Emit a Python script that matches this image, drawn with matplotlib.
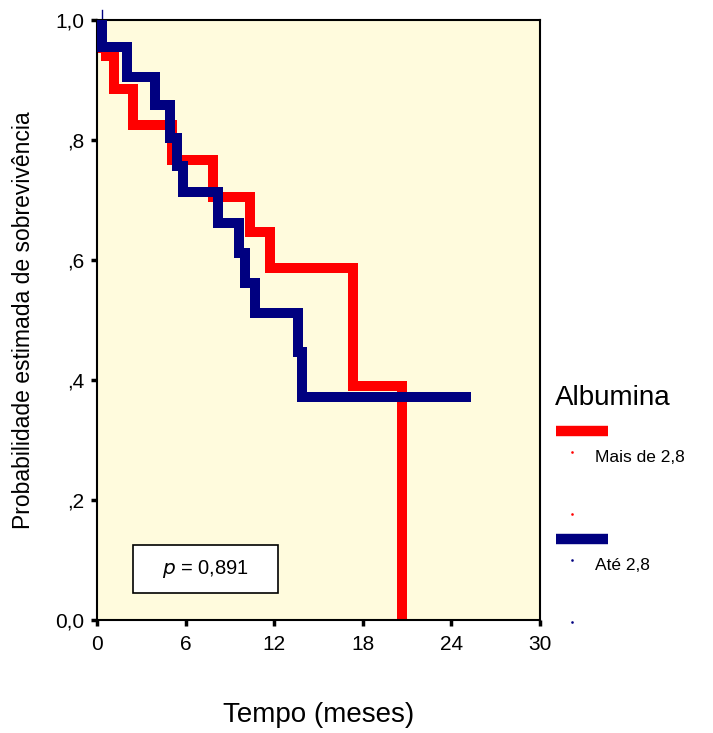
import numpy as np
import matplotlib.pyplot as plt
from matplotlib.patches import Rectangle

plt.rcParams['font.family'] = ['Liberation Sans', 'DejaVu Sans']

# Kaplan-Meier steps (time in months, survival)
red_t = [0, 0.1, 0.6, 1.15, 2.45, 5.1, 7.85, 10.36, 11.7, 17.35, 20.65]
red_s = [1.0, 0.953, 0.94, 0.885, 0.825, 0.767, 0.705, 0.647, 0.587, 0.39, 0.0]

blue_t = [0, 0.34, 2.0, 3.9, 4.95, 5.4, 5.8, 8.2, 9.6, 10.0, 10.7, 13.6, 13.9, 25.3]
blue_s = [1.0, 0.955, 0.905, 0.858, 0.803, 0.757, 0.713, 0.662, 0.612, 0.562,
          0.512, 0.447, 0.372, 0.372]

xticks = [0, 6, 12, 18, 24, 30]
yticks = [0.0, 0.2, 0.4, 0.6, 0.8, 1.0]
ylabels = ['0,0', ',2', ',4', ',6', ',8', '1,0']
groups = ['Mais de 2,8', 'Até 2,8']
colors = ['#ff0000', '#000080']

fig = plt.figure(figsize=(7.13, 7.33), dpi=100)
ax = fig.add_axes([97 / 713, 1 - 620 / 733, 443 / 713, 600 / 733])
ax.set_facecolor('#fffbdd')

ax.step(blue_t, blue_s, where='post', color=colors[1], lw=7.2,
        solid_joinstyle='miter', solid_capstyle='butt', zorder=3)
ax.step(red_t, red_s, where='post', color=colors[0], lw=7.2,
        solid_joinstyle='miter', solid_capstyle='butt', zorder=2)
# censor tick at the top
ax.plot([0.34, 0.34], [1.0, 1.017], color=colors[1], lw=1, clip_on=False)

ax.set_xlim(0, 30)
ax.set_ylim(0, 1)
ax.set_xticks(xticks)
ax.set_yticks(yticks)
ax.set_yticklabels(ylabels)
ax.tick_params(direction='out', length=4, width=2.5, labelsize=15, color='black')
ax.tick_params(axis='x', pad=7)
ax.tick_params(axis='y', pad=5)
for s in ax.spines.values():
    s.set_linewidth(1.5)

ax.set_ylabel('Probabilidade estimada de sobrevivência', fontsize=16.5, labelpad=15)
ax.set_xlabel('Tempo (meses)', fontsize=20, labelpad=34)

# p-value box
ax.add_patch(Rectangle(((133 - 97) / 443 * 30, (620 - 593) / 600), 145 / 443 * 30, 48 / 600,
                       fc='white', ec='black', lw=1.2, zorder=4))
ax.text((205.5 - 97) / 443 * 30, 0.085, r'$\it{p}$ = 0,891', fontsize=14.5,
        ha='center', va='center', zorder=5)

# legend drawn by hand
fig.text(555 / 713, 1 - 398 / 733, 'Albumina', fontsize=20, va='center')
for i, (g, c) in enumerate(zip(groups, colors)):
    y0 = 431 + i * 108
    fig.add_artist(plt.Line2D([556 / 713, 608 / 713], [1 - y0 / 733] * 2,
                              color=c, lw=7.5, solid_capstyle='butt'))
    fig.text(595 / 713, 1 - (y0 + 27) / 733, g, fontsize=12.5, va='center')
    for dy in (21, 83):
        fig.add_artist(plt.Line2D([572 / 713], [1 - (y0 + dy) / 733],
                                  color=c, marker='s', ms=0.8, lw=0))

fig.savefig('out.png')
